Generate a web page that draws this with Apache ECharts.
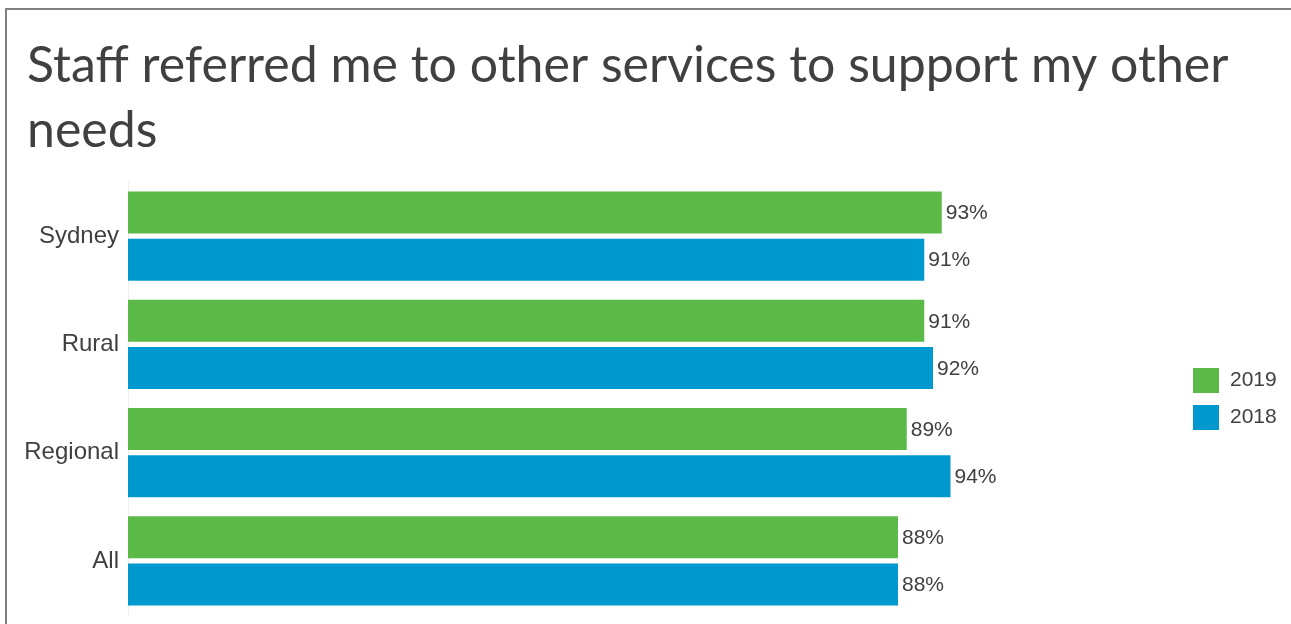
<!DOCTYPE html>
<html>
<head>
<meta charset="utf-8">
<title>Staff referred me to other services</title>
<script src="https://cdn.jsdelivr.net/npm/echarts@6/dist/echarts.min.js"></script>
<style>
  html, body { margin: 0; padding: 0; background: #ffffff; }
  #chart { width: 1291px; height: 624px; }
</style>
</head>
<body>
<div id="chart"></div>
<script>
// Survey results by area (percent of respondents agreeing)
const categories = ['Sydney', 'Rural', 'Regional', 'All'];
const seriesNames = ['2019', '2018'];
const values2019 = [93, 91, 89, 88];
const values2018 = [91, 92, 94, 88];

const COLORS = { '2019': '#5BBA47', '2018': '#0099CF' };
const TEXT = '#404040';
const SANS = '"Liberation Sans", Arial, sans-serif';

const chart = echarts.init(document.getElementById('chart'), null, { renderer: 'canvas' });

function barSeries(name, data) {
  return {
    name: name,
    type: 'bar',
    data: data,
    barWidth: 42,
    barGap: '12%',
    itemStyle: { color: COLORS[name] },
    label: {
      show: true,
      position: 'right',
      distance: 4,
      formatter: '{c}%',
      color: TEXT,
      fontSize: 21,
      fontFamily: SANS,
      offset: [0, 1]
    },
    silent: true,
    animation: false
  };
}

chart.setOption({
  animation: false,
  backgroundColor: '#ffffff',
  graphic: [{
    type: 'rect',
    shape: { x: 6, y: 9, width: 1400, height: 1000 },
    style: { fill: 'none', stroke: '#808080', lineWidth: 2 },
    silent: true
  }],
  title: {
    text: 'Staff referred me to other services to support my other\nneeds',
    left: 22,
    top: 28,
    textStyle: {
      color: TEXT,
      fontSize: 50,
      fontWeight: 'normal',
      lineHeight: 65,
      fontFamily: 'Lato, "Open Sans", sans-serif'
    }
  },
  legend: {
    data: seriesNames,
    orient: 'vertical',
    left: 1188,
    top: 363,
    icon: 'rect',
    itemWidth: 26,
    itemHeight: 25,
    itemGap: 12,
    selectedMode: false,
    textStyle: { color: TEXT, fontSize: 21, fontFamily: SANS, padding: [0, 0, 0, 6] }
  },
  grid: { left: 128, top: 182, width: 875, height: 433, containLabel: false },
  xAxis: {
    type: 'value',
    min: 0,
    max: 100,
    show: false
  },
  yAxis: {
    type: 'category',
    data: categories,
    inverse: true,
    axisTick: { show: false },
    axisLine: { show: true, lineStyle: { color: '#eeeeee', width: 1 } },
    axisLabel: { color: TEXT, fontSize: 24, fontFamily: SANS, margin: 9, padding: [3, 0, 0, 0] },
    splitLine: { show: false }
  },
  series: [
    barSeries('2019', values2019),
    barSeries('2018', values2018)
  ]
});
</script>
</body>
</html>
